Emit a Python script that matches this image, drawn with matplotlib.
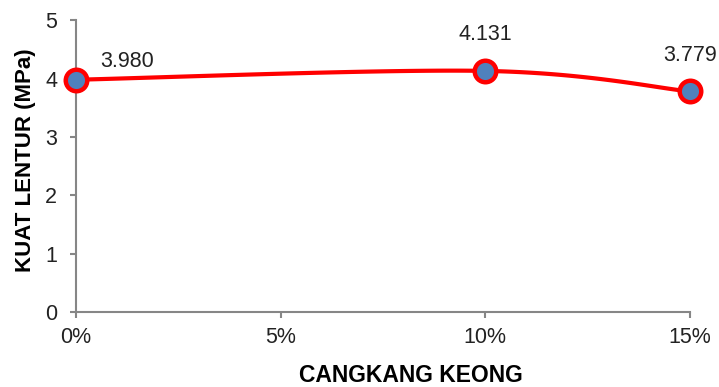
import matplotlib
matplotlib.use("Agg")
import matplotlib.pyplot as plt
import numpy as np

plt.rcParams['font.family'] = ['Liberation Sans', 'DejaVu Sans']

# data
x_pct = [0, 10, 15]
kuat_lentur = [3.980, 4.131, 3.779]
value_labels = ['3.980', '4.131', '3.779']
x_ticks = [0, 5, 10, 15]
x_tick_labels = ['0%', '5%', '10%', '15%']
y_ticks = [0, 1, 2, 3, 4, 5]


def smooth_line(xs, ys, n=60):
    # bezier smoothing like the spreadsheet "smoothed line" (ends duplicated)
    xs = np.asarray(xs, float)
    ys = np.asarray(ys, float)
    px = np.concatenate([[xs[0]], xs, [xs[-1]]])
    py = np.concatenate([[ys[0]], ys, [ys[-1]]])
    out_x, out_y = [], []
    t = np.linspace(0, 1, n)
    for i in range(1, len(px) - 2):
        p0, p1, p2, p3 = [np.array([px[j], py[j]]) for j in range(i - 1, i + 3)]
        b1 = p1 + (p2 - p0) / 6
        b2 = p2 - (p3 - p1) / 6
        pts = ((1 - t) ** 3)[:, None] * p1 + (3 * (1 - t) ** 2 * t)[:, None] * b1 \
            + (3 * (1 - t) * t ** 2)[:, None] * b2 + (t ** 3)[:, None] * p2
        out_x.extend(pts[:, 0])
        out_y.extend(pts[:, 1])
    return out_x, out_y


fig = plt.figure(figsize=(7.19, 3.87), dpi=100)
ax = fig.add_axes([0.1057, 0.1938, 0.854, 0.754])

sx, sy = smooth_line(x_pct, kuat_lentur)
ax.plot(sx, sy, color='#FF0000', lw=3, solid_capstyle='round', zorder=2, clip_on=False)
ax.plot(x_pct, kuat_lentur, 'o', ms=15.5, mfc='#4F81BD', mec='#FF0000', mew=3.2,
        zorder=3, clip_on=False)

offsets = [(37, 9), (0, 22), (0, 22)]
for x, y, lab, off in zip(x_pct, kuat_lentur, value_labels, offsets):
    ax.annotate(lab, (x, y), xytext=off, textcoords='offset points',
                ha='center', va='baseline', fontsize=15.5, color='#222222')

ax.set_xlim(0, 15)
ax.set_ylim(0, 5)
ax.set_xticks(x_ticks)
ax.set_xticklabels(x_tick_labels)
ax.set_yticks(y_ticks)

for s in ['top', 'right']:
    ax.spines[s].set_visible(False)
for s in ['left', 'bottom']:
    ax.spines[s].set_color('#868686')
    ax.spines[s].set_linewidth(1.5)
ax.tick_params(axis='both', colors='#868686', width=1.5, length=4.5, labelsize=15.5,
               labelcolor='#222222')
ax.tick_params(axis='x', pad=6)
ax.tick_params(axis='y', pad=9)

ax.set_xlabel('CANGKANG KEONG', fontsize=16.5, fontweight='bold', va='center')
ax.set_ylabel('KUAT LENTUR (MPa)', fontsize=16, fontweight='bold', va='center')
ax.xaxis.set_label_coords(0.546, -0.219)
ax.yaxis.set_label_coords(-0.083, 0.52)

fig.savefig('out.png', dpi=100)
